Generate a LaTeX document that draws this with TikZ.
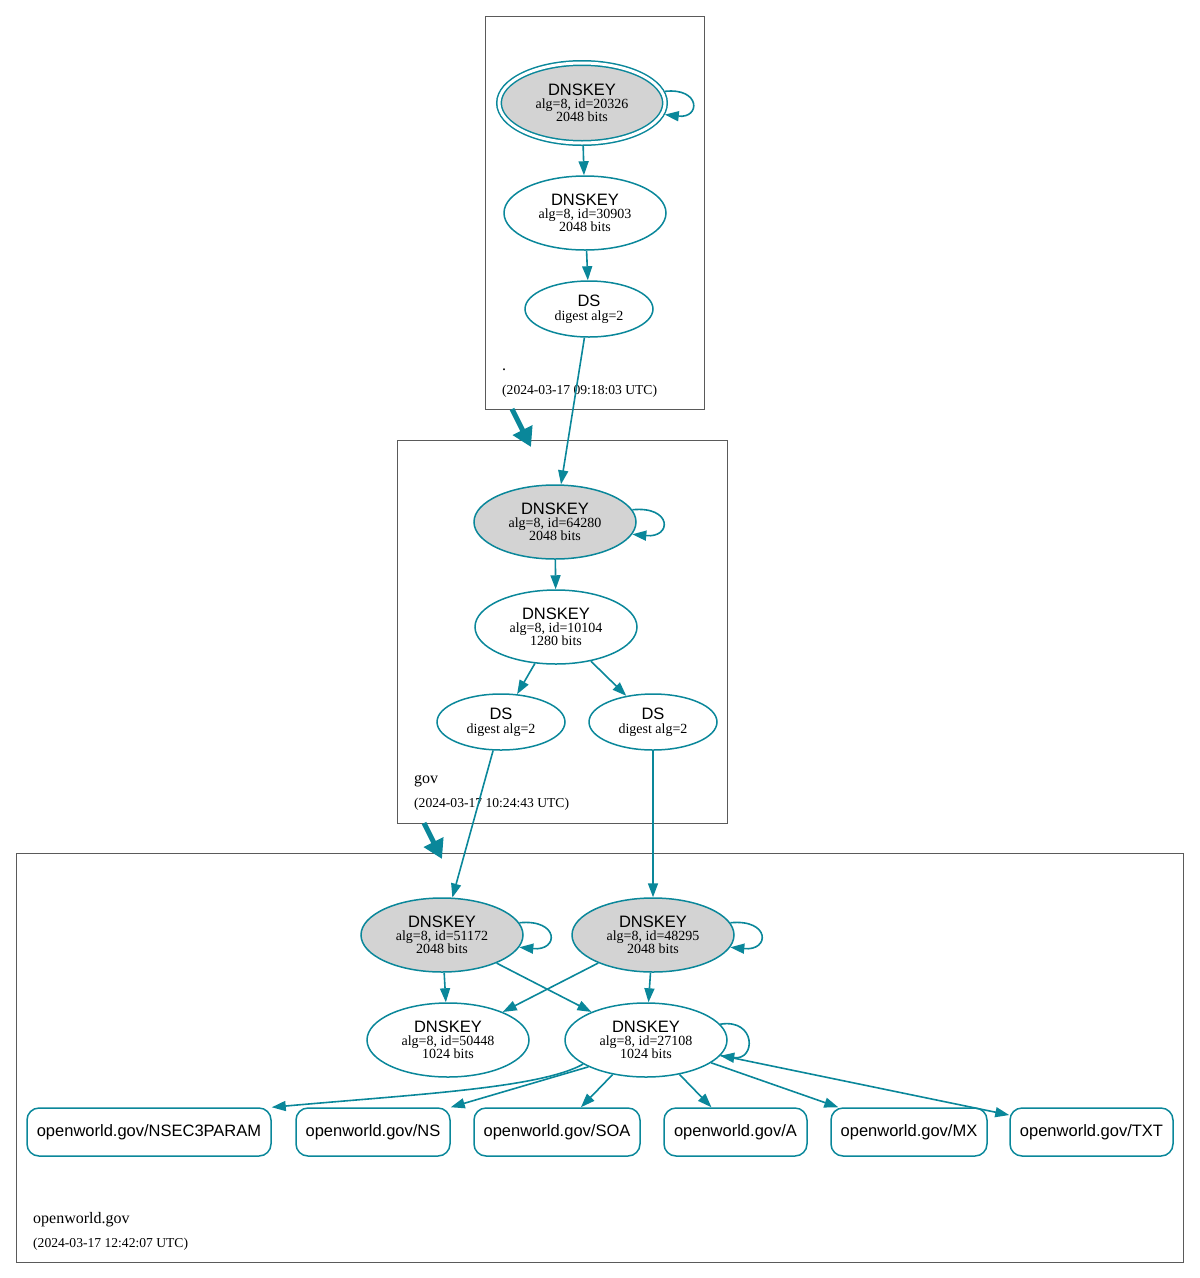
\documentclass[tikz,border=0pt]{standalone}
\usepackage{fontspec}
\setmainfont{Liberation Serif}
\setsansfont{Liberation Sans}
\usetikzlibrary{arrows.meta,shapes.geometric}
\definecolor{dteal}{HTML}{0A879A}
\definecolor{zgray}{HTML}{5A5A5A}
\definecolor{kfill}{HTML}{D3D3D3}
\tikzset{
  key/.style={ellipse, draw=dteal, line width=1.5pt, minimum width=162pt, minimum height=74pt, inner sep=0pt, align=center, font=\fontsize{14}{13}\selectfont},
  ksep/.style={key, fill=kfill},
  dsn/.style={ellipse, draw=dteal, line width=1.5pt, minimum width=128pt, minimum height=56pt, inner sep=0pt, align=center, font=\fontsize{14}{14}\selectfont},
  rec/.style={rectangle, rounded corners=12pt, draw=dteal, line width=1.5pt, minimum height=48pt, inner sep=0pt, font=\sffamily\fontsize{16.5}{18}\selectfont},
  zone/.style={draw=zgray, line width=1pt, rectangle, inner sep=0pt},
  edge/.style={draw=dteal, line width=1.6pt, -{Triangle[length=14pt,width=10pt]}},
  deleg/.style={draw=dteal, line width=5pt, -{Triangle[length=19pt,width=21pt]}},
  zlabel/.style={anchor=base west, inner sep=0pt, font=\fontsize{16}{16}\selectfont},
  zstamp/.style={anchor=base west, inner sep=0pt, font=\fontsize{13.6}{14}\selectfont},
}
\newcommand{\keytext}[2]{{\sffamily\fontsize{16.5}{16}\selectfont DNSKEY}\\alg=8, id=#1\\#2 bits}
\newcommand{\dstext}{{\sffamily\fontsize{16.5}{16}\selectfont DS}\\digest alg=2}
\newcommand{\selfloop}[1]{\draw[edge] (#1.9) .. controls +(40,-4) and +(40,4) .. (#1.-9);}
\begin{document}
\begin{tikzpicture}[x=1pt,y=-1pt]
\useasboundingbox (0,0) rectangle (1200,1278);
% zones
\node[zone, minimum width=219pt, minimum height=393pt] (zroot) at (594.5,212.5) {};
\node[zone, minimum width=330pt, minimum height=383pt] (zgov) at (562,631.5) {};
\node[zone, minimum width=1167pt, minimum height=409pt] (zow) at (599.5,1057.5) {};
% root
\node[key, fill=kfill, double=white, double distance=3pt, minimum width=166pt, minimum height=80pt, outer sep=3pt] (r1) at (582,103) {\keytext{20326}{2048}};
\node[key] (r2) at (585,213) {\keytext{30903}{2048}};
\node[dsn] (r3) at (589,309) {\dstext};
\node[zlabel] (lroot) at (502,370) {.};
\node[zstamp] (sroot) at (502,394.5) {(2024-03-17 09:18:03 UTC)};
% gov
\node[ksep] (g1) at (555,522) {\keytext{64280}{2048}};
\node[key] (g2) at (556,627) {\keytext{10104}{1280}};
\node[dsn] (g3) at (501,722) {\dstext};
\node[dsn] (g4) at (653,722) {\dstext};
\node[zlabel] (lgov) at (414,783) {gov};
\node[zstamp] (sgov) at (414,807.5) {(2024-03-17 10:24:43 UTC)};
% openworld.gov
\node[ksep] (o1) at (442,935) {\keytext{51172}{2048}};
\node[ksep] (o2) at (653,935) {\keytext{48295}{2048}};
\node[key] (o3) at (448,1040) {\keytext{50448}{1024}};
\node[key] (o4) at (646,1040) {\keytext{27108}{1024}};
\node[rec, minimum width=244pt] (w1) at (149,1132) {openworld.gov/NSEC3PARAM};
\node[rec, minimum width=154pt] (w2) at (373,1132) {openworld.gov/NS};
\node[rec, minimum width=166pt] (w3) at (557,1132) {openworld.gov/SOA};
\node[rec, minimum width=143pt] (w4) at (735.5,1132) {openworld.gov/A};
\node[rec, minimum width=156pt] (w5) at (909,1132) {openworld.gov/MX};
\node[rec, minimum width=163pt] (w6) at (1091.5,1132) {openworld.gov/TXT};
\node[zlabel] (low) at (33,1223) {openworld.gov};
\node[zstamp] (sow) at (33,1247.5) {(2024-03-17 12:42:07 UTC)};
% delegation arrows
\coordinate (d1a) at (512,409);
\coordinate (d1b) at (531,447);
\coordinate (d2a) at (424,823);
\coordinate (d2b) at (442,859);
\draw[deleg] (d1a) -- (d1b);
\draw[deleg] (d2a) -- (d2b);
% edges
\draw[edge] (r1.8) .. controls +(36,-4) and +(36,4) .. (r1.-8);
\draw[edge] (r1) -- (r2);
\draw[edge] (r2) -- (r3);
\draw[edge] (r3) -- (g1);
\selfloop{g1}
\draw[edge] (g1) -- (g2);
\draw[edge] (g2) -- (g3);
\draw[edge] (g2) -- (g4);
\draw[edge] (g3) -- (o1);
\draw[edge] (g4) -- (o2);
\selfloop{o1}
\selfloop{o2}
\draw[edge] (o1) -- (o3);
\draw[edge] (o1) -- (o4);
\draw[edge] (o2) -- (o3);
\draw[edge] (o2) -- (o4);
\draw[edge] (o4.12) .. controls +(36,-6) and +(36,5) .. (o4.-12);
\draw[edge] (o4.201) .. controls (540,1088) and (420,1094) .. (w1.north east);
\draw[edge] (o4.205) -- (w2.north east);
\draw[edge] (o4) -- (w3);
\draw[edge] (o4) -- (w4);
\draw[edge] (o4) -- (w5);
\draw[edge] (o4) -- (w6);
\end{tikzpicture}
\end{document}
